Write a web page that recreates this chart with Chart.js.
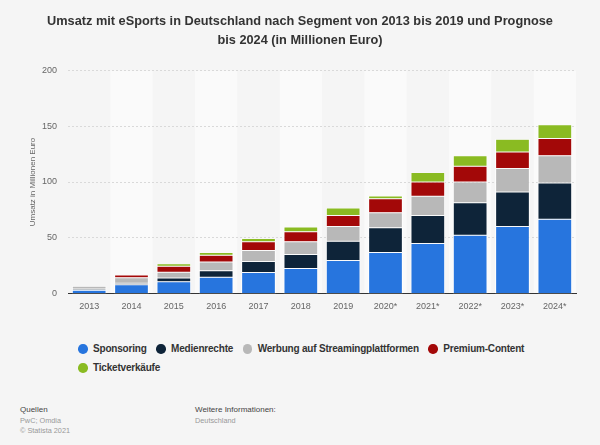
<!DOCTYPE html>
<html lang="de">
<head>
<meta charset="utf-8">
<title>Umsatz mit eSports in Deutschland</title>
<script src="https://cdn.jsdelivr.net/npm/chart.js@4"></script>
<style>
  html, body { margin: 0; padding: 0; background: #f5f5f5; }
  body { position: relative; width: 600px; height: 445px; overflow: hidden; font-family: "Liberation Sans", Arial, sans-serif; }
  #chart-box { position: absolute; left: 0; top: 0; width: 600px; height: 330px; }
  #title { position: absolute; left: 0; top: 11px; width: 600px; text-align: center; font-size: 12.75px; font-weight: bold; color: #333; line-height: 19px; }
  #legend { position: absolute; left: 78px; top: 339px; width: 500px; font-size: 10px; letter-spacing: -0.2px; font-weight: bold; color: #333; line-height: 19px; }
  #legend span.item { display: inline-block; margin-right: 9.5px; white-space: nowrap; }
  #legend i { display: inline-block; width: 9.5px; height: 9.5px; border-radius: 50%; margin-right: 5.5px; vertical-align: -1.5px; }
  .foot { position: absolute; top: 405px; font-size: 7.3px; line-height: 10.7px; color: #999; }
  .foot b { font-weight: normal; font-size: 8px; color: #444; display: block; }
</style>
</head>
<body>
<div id="chart-box"><canvas id="chart-canvas"></canvas></div>
<div id="title">Umsatz mit eSports in Deutschland nach Segment von 2013 bis 2019 und Prognose<br>bis 2024 (in Millionen Euro)</div>
<div id="legend"></div>
<div class="foot" style="left:20px"><b>Quellen</b>PwC; Omdia<br>© Statista 2021</div>
<div class="foot" style="left:195px"><b>Weitere Informationen:</b>Deutschland</div>
<script>
const years = ['2013', '2014', '2015', '2016', '2017', '2018', '2019', '2020*', '2021*', '2022*', '2023*', '2024*']
const sponsoring = [3, 7.8, 10.5, 14.6, 18.8, 22.4, 29.6, 36.8, 44.8, 52.3, 60, 66.7]
const medienrechte = [1, 1.5, 3.5, 5.7, 9.9, 12.6, 17.3, 22.1, 25.1, 29, 31.1, 32.3]
const werbung = [2.5, 4.8, 5, 8, 9.9, 11.4, 13.2, 13.5, 17.3, 18.8, 20.9, 24.5]
const premium = [0.2, 2.4, 5.4, 6, 7.8, 9, 9.9, 12.6, 12.9, 14.1, 15, 15.5]
const tickets = [0.2, 0.1, 2.2, 2.4, 3, 4.2, 6.6, 2.4, 8.4, 9.3, 11.4, 12.3]
const yTicks = [0, 50, 100, 150, 200]

function segment(label, data, color) {
  return {
    label: label,
    data: data,
    backgroundColor: color,
    borderColor: '#ffffff',
    borderWidth: { top: 0.5, bottom: 0.5, left: 1, right: 1 },
    borderSkipped: false,
    categoryPercentage: 1,
    barPercentage: 0.82
  }
}

// lighter band behind every second year
const stripes = {
  id: 'stripes',
  beforeDraw(chart) {
    const { ctx, chartArea, scales } = chart
    const step = scales.x.width / years.length
    ctx.save()
    ctx.fillStyle = '#fafafa'
    years.forEach((year, i) => {
      if (i % 2 === 1) {
        ctx.fillRect(scales.x.getPixelForValue(i) - step / 2, chartArea.top, step, chartArea.height)
      }
    })
    ctx.restore()
  }
}

const chart = new Chart(document.querySelector('#chart-canvas'), {
  type: 'bar',
  data: {
    labels: years,
    datasets: [
      segment('Sponsoring', sponsoring, '#2775de'),
      segment('Medienrechte', medienrechte, '#0e2439'),
      segment('Werbung auf Streamingplattformen', werbung, '#b8b8b8'),
      segment('Premium-Content', premium, '#a30808'),
      segment('Ticketverkäufe', tickets, '#8abb22')
    ]
  },
  plugins: [stripes],
  options: {
    responsive: true,
    maintainAspectRatio: false,
    animation: false,
    layout: { padding: { left: 28, right: 24, top: 70.5, bottom: 0 } },
    plugins: {
      legend: { display: false },
      tooltip: { enabled: false }
    },
    scales: {
      x: {
        stacked: true,
        afterFit(scale) { scale.height = 36.5 },
        grid: { display: false },
        border: { color: '#333333', width: 1 },
        ticks: { color: '#666666', font: { family: '"Liberation Sans"', size: 9 }, padding: 0, maxRotation: 0, autoSkip: false }
      },
      y: {
        stacked: true,
        min: 0,
        max: 200,
        afterFit(scale) { scale.width = 40 },
        afterBuildTicks(scale) { scale.ticks = yTicks.map(v => ({ value: v })) },
        grid: {
          color: '#d9d9d9',
          lineWidth: ctx => (ctx.tick.value === 0 ? 0 : 1),
          tickLength: 0
        },
        border: { display: false, dash: [2, 2] },
        title: {
          display: true,
          text: 'Umsatz in Millionen Euro',
          color: '#666666',
          font: { family: '"Liberation Sans"', size: 8 },
          padding: { top: 0, bottom: 0 }
        },
        ticks: { color: '#666666', font: { family: '"Liberation Sans"', size: 9 }, padding: 11 }
      }
    }
  }
})

const legend = document.querySelector('#legend')
chart.data.datasets.forEach(set => {
  const item = document.createElement('span')
  item.className = 'item'
  const dot = document.createElement('i')
  dot.style.background = set.backgroundColor
  item.appendChild(dot)
  item.appendChild(document.createTextNode(set.label))
  legend.appendChild(item)
})
</script>
</body>
</html>
